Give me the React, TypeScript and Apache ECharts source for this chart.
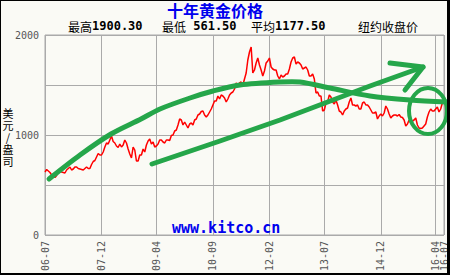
import React, { useEffect, useRef } from "react";
import * as echarts from "echarts";

// Semi-monthly closing prices (USD/oz), 2006-07 .. 2016-07
const prices2006 = [630, 655, 640, 625, 600, 590, 575, 595, 625, 640, 630, 625];
const prices2007 = [620, 650, 665, 680, 650, 660, 680, 680, 665, 660, 655, 650, 665, 680, 665, 665, 705, 735, 745, 780, 815, 800, 800, 830];
const prices2008 = [880, 920, 910, 950, 990, 935, 920, 890, 875, 910, 880, 900, 950, 920, 860, 810, 770, 880, 850, 740, 740, 800, 800, 860];
const prices2009 = [830, 900, 940, 960, 910, 930, 880, 890, 910, 950, 950, 930, 920, 950, 950, 945, 995, 1000, 1040, 1050, 1100, 1160, 1150, 1100];
const prices2010 = [1130, 1100, 1070, 1110, 1120, 1100, 1150, 1160, 1200, 1210, 1235, 1240, 1200, 1180, 1200, 1230, 1260, 1300, 1340, 1340, 1390, 1360, 1400, 1390];
const prices2011 = [1370, 1330, 1360, 1400, 1420, 1430, 1460, 1520, 1500, 1520, 1530, 1500, 1560, 1620, 1750, 1830, 1880, 1620, 1650, 1720, 1770, 1700, 1650, 1590];
const prices2012 = [1640, 1720, 1740, 1770, 1680, 1660, 1650, 1650, 1590, 1560, 1600, 1580, 1590, 1610, 1610, 1660, 1730, 1770, 1780, 1710, 1730, 1720, 1700, 1660];
const prices2013 = [1670, 1680, 1650, 1590, 1590, 1610, 1560, 1420, 1430, 1390, 1390, 1240, 1250, 1320, 1330, 1400, 1380, 1330, 1310, 1350, 1300, 1240, 1230, 1200];
const prices2014 = [1240, 1260, 1270, 1330, 1370, 1300, 1300, 1290, 1300, 1260, 1260, 1320, 1330, 1300, 1300, 1280, 1250, 1220, 1220, 1230, 1160, 1190, 1210, 1190];
const prices2015 = [1220, 1290, 1260, 1210, 1170, 1190, 1200, 1200, 1190, 1205, 1180, 1175, 1150, 1090, 1110, 1150, 1120, 1140, 1150, 1170, 1100, 1070, 1065, 1070];
const prices2016 = [1090, 1110, 1180, 1230, 1260, 1240, 1240, 1260, 1280, 1230, 1260, 1320, 1350];

const prices = [
  ...prices2006, ...prices2007, ...prices2008, ...prices2009, ...prices2010, ...prices2011,
  ...prices2012, ...prices2013, ...prices2014, ...prices2015, ...prices2016,
];

// category labels: two points per month starting 2006-07
const categories: string[] = prices.map((_, i) => {
  const m = 6 + Math.floor(i / 2); // months since 2006-01 (0-based)
  const y = 6 + Math.floor(m / 12);
  const mm = (m % 12) + 1;
  return String(y).padStart(2, "0") + "-" + String(mm).padStart(2, "0");
});

const tickIndices = [0, 34, 67, 101, 135, 168, 202, 235];
const lastTickIndex = 240;

const title = "十年黄金价格";
const statHigh = "1900.30";
const statLow = " 561.50";
const statAvg = "1177.50";
const yName = ["美", "元", "/", "盎", "司"];

const GREEN = "#25a64a";

export default function App() {
  const ref = useRef<HTMLDivElement>(null);
  useEffect(() => {
    document.body.style.margin = "0";
    const chart = echarts.init(ref.current!, undefined, { renderer: "svg" });
    const showIdx = (i: number) => tickIndices.includes(i) || i === lastTickIndex;
    const statRich = {
      c: { font: "12px 'Noto Sans CJK SC'", fill: "#000" },
      n: { font: "bold 12px 'DejaVu Sans Mono'", fill: "#000" },
    };
    const xLabelBase = {
      rotate: 90,
      margin: 6,
      color: "#555",
      fontSize: 10,
      fontFamily: "DejaVu Sans Mono",
      hideOverlap: false,
      showMaxLabel: true,
      showMinLabel: true,
    };
    chart.setOption({
      animation: false,
      backgroundColor: "#fafaf5",
      grid: { left: 45, right: 6, top: 35, bottom: 40, show: true, borderColor: "#a8a8a8", borderWidth: 1, backgroundColor: "transparent" },
      xAxis: [
        {
          type: "category",
          data: categories,
          boundaryGap: false,
          axisLine: { show: false },
          axisTick: { show: false },
          axisLabel: { ...xLabelBase, interval: (i: number) => tickIndices.includes(i) },
          splitLine: { show: true, interval: (i: number) => showIdx(i), lineStyle: { color: "#aaaaaa", width: 1 } },
        },
        {
          type: "category",
          data: categories,
          position: "bottom",
          offset: 0,
          boundaryGap: false,
          axisLine: { show: false },
          axisTick: { show: false },
          splitLine: { show: false },
          axisLabel: { ...xLabelBase, interval: (i: number) => i === lastTickIndex },
        },
      ],
      yAxis: {
        type: "value",
        min: 0,
        max: 2000,
        interval: 500,
        axisLine: { show: false },
        axisTick: { show: false },
        axisLabel: {
          formatter: (v: number) => (v % 1000 === 0 ? String(v) : ""),
          color: "#555",
          fontSize: 10,
          margin: 6,
          fontFamily: "DejaVu Sans Mono",
        },
        splitLine: { show: true, lineStyle: { color: "#aaaaaa", width: 1 } },
      },
      series: [
        {
          type: "line",
          data: prices,
          xAxisIndex: 0,
          symbol: "none",
          lineStyle: { color: "#ff0000", width: 1.5 },
          z: 3,
        },
      ],
      graphic: [
        {
          type: "text",
          x: 167,
          y: 10,
          style: { text: title, fill: "#0000ee", font: "bold 16px 'Noto Sans CJK SC'", lineHeight: 16, verticalAlign: "middle" },
        },
        { type: "text", x: 68, y: 26, style: { text: "{c|最高}{n|" + statHigh + "}", rich: statRich, verticalAlign: "middle" } },
        { type: "text", x: 162, y: 26, style: { text: "{c|最低}{n|" + statLow + "}", rich: statRich, verticalAlign: "middle" } },
        { type: "text", x: 251, y: 26, style: { text: "{c|平均}{n|" + statAvg + "}", rich: statRich, verticalAlign: "middle" } },
        {
          type: "text",
          x: 358,
          y: 26,
          style: { text: "纽约收盘价", font: "12px 'Noto Sans CJK SC'", fill: "#000", verticalAlign: "middle" },
        },
        ...yName.map((ch, i) => ({
          type: "text",
          x: 8,
          y: 113 + i * 12,
          style: { text: ch, font: "11px 'Noto Sans CJK SC'", lineHeight: 11, fill: "#000", align: "center", verticalAlign: "middle" },
        })),
        {
          type: "text",
          x: 172,
          y: 228,
          z: 50,
          style: { text: "www.kitco.cn", font: "bold 15px 'DejaVu Sans Mono'", fill: "#0000ee", verticalAlign: "middle" },
        },
        // hand-drawn green annotations
        {
          type: "polyline",
          z: 100,
          shape: {
            smooth: 0.3,
            points: [[49, 179], [80, 155], [111, 134], [141, 119], [160, 109], [190, 98], [213, 91], [240, 85], [280, 82], [300, 82], [330, 88], [370, 96], [410, 100], [447, 102]],
          },
          style: { stroke: GREEN, lineWidth: 5, fill: null, lineCap: "round", lineJoin: "round" },
        },
        {
          type: "polyline",
          z: 100,
          shape: { points: [[152, 164], [220, 141], [280, 120], [370, 86], [423, 67]] },
          style: { stroke: GREEN, lineWidth: 5, fill: null, lineCap: "round", lineJoin: "round" },
        },
        {
          type: "polyline",
          z: 100,
          shape: { points: [[390, 63], [423, 67], [405, 90]] },
          style: { stroke: GREEN, lineWidth: 5, fill: null, lineCap: "round", lineJoin: "round" },
        },
        {
          type: "ellipse",
          z: 100,
          shape: { cx: 428, cy: 111, rx: 19, ry: 23 },
          style: { stroke: GREEN, lineWidth: 4, fill: null },
        },
        // frame
        { type: "rect", z: 200, shape: { x: 0, y: 0, width: 450, height: 1 }, style: { fill: "#000" } },
        { type: "rect", z: 200, shape: { x: 0, y: 0, width: 1, height: 275 }, style: { fill: "#000" } },
        { type: "rect", z: 200, shape: { x: 447, y: 0, width: 3, height: 275 }, style: { fill: "#000" } },
        { type: "rect", z: 200, shape: { x: 0, y: 273, width: 450, height: 2 }, style: { fill: "#000" } },
      ],
    });
    return () => chart.dispose();
  }, []);
  return <div ref={ref} style={{ width: 450, height: 275 }} />;
}
